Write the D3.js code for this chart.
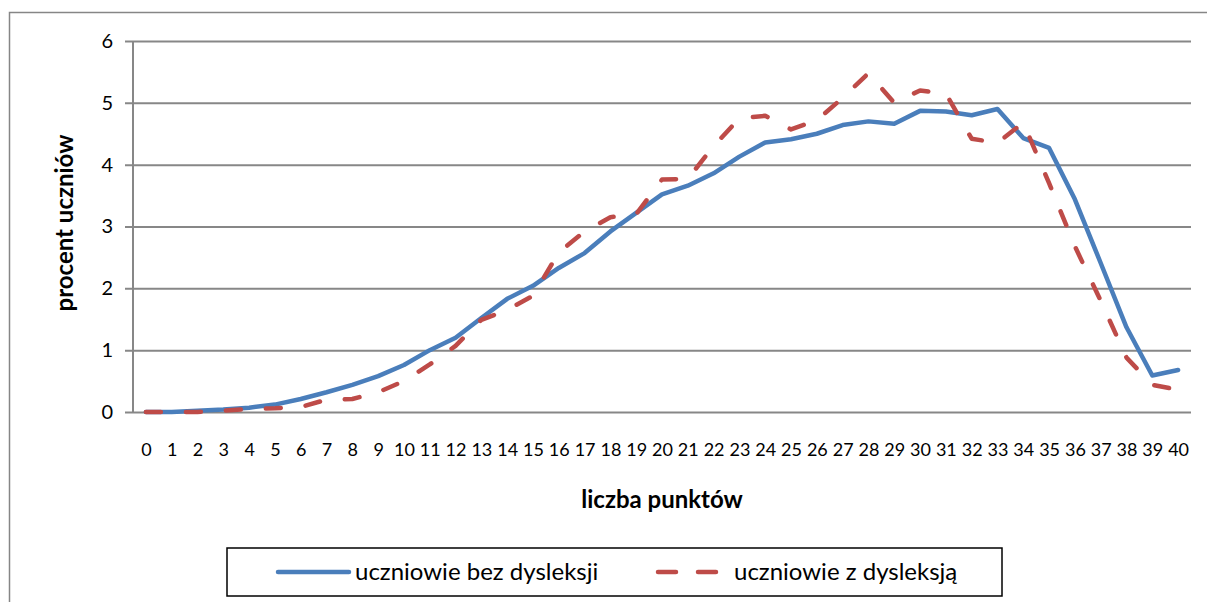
<!DOCTYPE html>
<html>
<head>
<meta charset="utf-8">
<script src="https://cdn.jsdelivr.net/npm/d3@7"></script>
<style>
  html, body { margin: 0; padding: 0; background: #fff; }
  svg { display: block; }
  text { font-family: Lato, "Open Sans", sans-serif; fill: #000; }
</style>
</head>
<body>
<svg id="chart" width="1207" height="602"></svg>
<script>
// liczba punktów 0..40
const points = d3.range(0, 41);

// procent uczniów
const bezDysleksji = [
	0, 0, 0.02, 0.04, 0.07, 0.12, 0.21, 0.32, 0.44, 0.58,
	0.76, 1.0, 1.2, 1.52, 1.83, 2.04, 2.33, 2.57, 2.92, 3.22,
	3.52, 3.66, 3.86, 4.13, 4.36, 4.41, 4.5, 4.64, 4.7, 4.66,
	4.87, 4.86, 4.8, 4.9, 4.43, 4.27, 3.44, 2.41, 1.37, 0.59,
	0.68
];
const zDysleksja = [
	0, 0, 0, 0.02, 0.05, 0.06, 0.08, 0.2, 0.21, 0.32,
	0.5, 0.77, 1.07, 1.49, 1.65, 1.88, 2.58, 2.92, 3.15, 3.2,
	3.76, 3.77, 4.3, 4.75, 4.79, 4.57, 4.72, 5.08, 5.48, 5.0,
	5.2, 5.15, 4.42, 4.35, 4.68, 3.7, 2.68, 1.8, 0.88, 0.44,
	0.36
];
const yTicks = [0, 1, 2, 3, 4, 5, 6];

const seriesNames = ['uczniowie bez dysleksji', 'uczniowie z dysleksją'];
const xTitle = 'liczba punktów';
const yTitle = 'procent uczniów';

const series = [
	{ name: seriesNames[0], values: bezDysleksji, color: '#4a7ebb', dash: null },
	{ name: seriesNames[1], values: zDysleksja, color: '#be4b48', dash: '15,25' }
];

const svg = d3.select('#chart');

// plot area
const plot = { left: 133, right: 1191, top: 41, bottom: 412 };

const xScale = d3.scalePoint()
	.domain(points)
	.range([plot.left, plot.right])
	.padding(0.5);

const yScale = d3.scaleLinear()
	.domain([0, 6])
	.range([plot.bottom, plot.top]);

// outer chart frame (cut off on the right and at the bottom)
svg.append('rect')
	.attr('x', 9.5).attr('y', 12.5)
	.attr('width', 1220).attr('height', 620)
	.attr('fill', 'none')
	.attr('stroke', '#868686')
	.attr('stroke-width', 1.5);

// gridlines + y ticks
const yAxis = d3.axisLeft(yScale)
	.tickValues(yTicks)
	.tickSize(-(plot.right - plot.left))
	.tickSizeOuter(0)
	.tickPadding(20)
	.tickFormat(d3.format('d'));

const gY = svg.append('g')
	.attr('class', 'y-axis')
	.attr('transform', `translate(${plot.left}, 0)`)
	.call(yAxis);

gY.select('.domain').remove();
gY.selectAll('.tick line')
	.attr('x1', -8)
	.attr('stroke', '#878787')
	.attr('stroke-width', 2);
gY.selectAll('.tick text')
	.attr('font-size', 20)
	.attr('font-family', 'Lato, sans-serif');

// vertical axis line
svg.append('line')
	.attr('x1', plot.left).attr('x2', plot.left)
	.attr('y1', plot.top).attr('y2', plot.bottom)
	.attr('stroke', '#878787')
	.attr('stroke-width', 2);

// x labels
const xAxis = d3.axisBottom(xScale)
	.tickSize(0)
	.tickPadding(31);

const gX = svg.append('g')
	.attr('class', 'x-axis')
	.attr('transform', `translate(0, ${plot.bottom})`)
	.call(xAxis);

gX.select('.domain').remove();
gX.selectAll('.tick text')
	.attr('font-size', 18)
	.attr('font-family', 'Lato, sans-serif');

// lines
const line = d3.line()
	.x((d, i) => xScale(points[i]))
	.y(d => yScale(d));

svg.append('g')
	.attr('class', 'lines')
	.selectAll('path')
	.data(series)
	.join('path')
	.attr('d', d => line(d.values))
	.attr('fill', 'none')
	.attr('stroke', d => d.color)
	.attr('stroke-width', 4.5)
	.attr('stroke-linejoin', 'round')
	.attr('stroke-linecap', 'round')
	.attr('stroke-dasharray', d => d.dash);

// axis titles
svg.append('text')
	.attr('x', 662)
	.attr('y', 508)
	.attr('text-anchor', 'middle')
	.attr('font-size', 24)
	.attr('font-weight', 'bold')
	.text(xTitle);

svg.append('text')
	.attr('transform', 'translate(73, 223) rotate(-90)')
	.attr('text-anchor', 'middle')
	.attr('font-size', 24)
	.attr('font-weight', 'bold')
	.text(yTitle);

// legend
const legend = svg.append('g').attr('class', 'legend');

legend.append('rect')
	.attr('x', 227).attr('y', 548)
	.attr('width', 775).attr('height', 48)
	.attr('fill', '#fff')
	.attr('stroke', '#000')
	.attr('stroke-width', 1.5);

const legendX = [278, 658];
const legendText = [355, 734];

series.forEach((s, i) => {
	legend.append('line')
		.attr('x1', legendX[i]).attr('x2', legendX[i] + 71)
		.attr('y1', 572).attr('y2', 572)
		.attr('stroke', s.color)
		.attr('stroke-width', 4.5)
		.attr('stroke-linecap', 'round')
		.attr('stroke-dasharray', s.dash ? '18,22' : null);

	legend.append('text')
		.attr('x', legendText[i])
		.attr('y', 580)
		.attr('font-size', 24)
		.text(s.name);
});
</script>
</body>
</html>
